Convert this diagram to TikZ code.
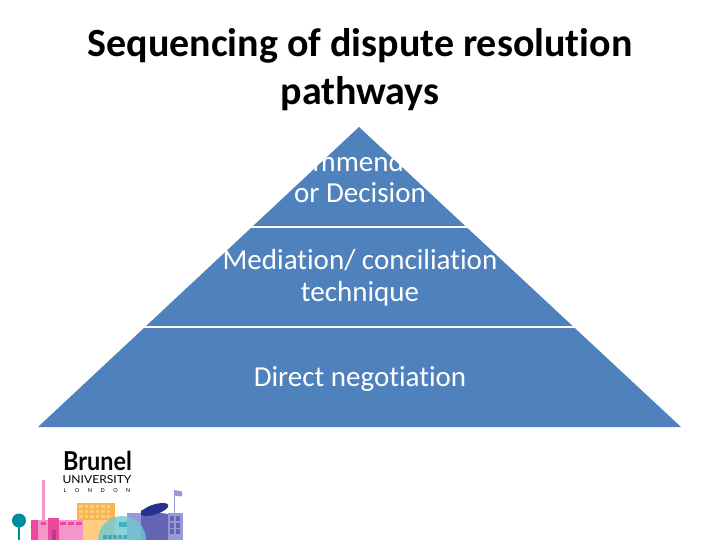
\documentclass[tikz,border=0pt]{standalone}
\usepackage{fontspec}
\setmainfont[Ligatures=NoCommon]{Carlito}
\newfontfamily\logofont{Lato}
\definecolor{pyr}{RGB}{79,129,189}
\definecolor{lpink}{RGB}{244,150,200}
\definecolor{hpink}{RGB}{236,72,160}
\definecolor{lorange}{RGB}{253,205,130}
\definecolor{morange}{RGB}{250,180,80}
\definecolor{lteal}{RGB}{110,200,210}
\definecolor{dteal}{RGB}{0,140,160}
\definecolor{lav}{RGB}{150,155,215}
\definecolor{dlav}{RGB}{100,100,180}
\definecolor{navy}{RGB}{40,50,140}
\tikzset{
  title/.style={font=\fontsize{40}{48}\selectfont\bfseries,text=black,align=center,inner sep=0},
  level/.style={font=\fontsize{29}{31.5}\selectfont,text=white,align=center,inner sep=0},
  sep/.style={draw=white,line width=1.6pt}
}
\begin{document}
\begin{tikzpicture}[x=1pt,y=-1pt]
\useasboundingbox (0,0) rectangle (720,540);
\fill[white] (0,0) rectangle (720,540);
\node[title] (t) at (360,70) {Sequencing of dispute resolution\\pathways};
\fill[pyr] (359,127) -- (681,427) -- (38,427) -- cycle;
\draw[sep] (250,227) -- (468,227);
\draw[sep] (144,327) -- (575,327);
\node[level] (a) at (360,177) {Recommendation\\or Decision};
\node[level] (b) at (360,278) {Mediation/ conciliation\\technique};
\node[level] (c) at (360,379) {Direct negotiation};
% logo
\node[anchor=base west,inner sep=0,xscale=.9,font=\fontsize{26}{26}\selectfont\bfseries] (br) at (63,470) {\logofont Brunel};
\node[anchor=base,inner sep=0,xscale=1.1,font=\fontsize{11}{11}\selectfont] (un) at (97,483.5) {\logofont UNIVERSITY};
\node[anchor=base,inner sep=0,font=\fontsize{5.5}{6}\selectfont] (lo) at (97,492) {\logofont L\hskip 8.5pt O\hskip 8.5pt N\hskip 8.5pt D\hskip 8.5pt O\hskip 8.5pt N};
% skyline
\fill[lpink] (41.7,480) rectangle (45,520);
\fill[dteal] (18,520) rectangle (20,540);
\fill[dteal] (19,520.5) circle (7);
% orange block
\fill[morange] (77,503) rectangle (115,520);
\fill[lorange] (83,520) rectangle (115,540);
\foreach \x in {79,84.5,90,95.5,101,106.5} \foreach \y in {505,510,515}
  \fill[lorange] (\x,\y) rectangle ++(3.6,3.4);
% pink block
\fill[lpink] (31,520) rectangle (83,540);
\fill[hpink] (31,520) rectangle (38,540);
\fill[hpink] (48,518) rectangle (59,540);
\fill[hpink!80!black] (52,530) rectangle (56,540);
\foreach \x/\w in {40.5/5.5,60/6,68/6,76/6}
  \fill[hpink] (\x,522) rectangle ++(\w,3.4);
% right building and flag
\fill[lav] (173.5,495) rectangle (175,513);
\fill[lav] (174,490) -- (182,491.5) -- (182,496.5) -- (174,495.5) -- cycle;
\fill[lav] (168,513) rectangle (183,540);
\foreach \x in {169.5,175.5} \foreach \y in {516,522.5,529}
  \fill[dlav] (\x,\y) rectangle ++(4.5,5);
% centre buildings
\fill[lav] (127,513) rectangle (141,540);
\fill[dlav] (141,510) -- (168,514) -- (168,540) -- (141,540) -- cycle;
\fill[navy] (154.5,509.5) ellipse [x radius=14.5,y radius=5,rotate=18];
% dome
\begin{scope}
\clip (0,0) rectangle (720,540);
\fill[lteal,opacity=.8] (122,540) circle (24);
\fill[dteal,opacity=.5] (119,522) rectangle (127,527);
\foreach \x in {103,108,113,118,123}
  \fill[dteal,opacity=.5] (\x,535) rectangle ++(3.6,3.6);
\end{scope}
\end{tikzpicture}
\end{document}
